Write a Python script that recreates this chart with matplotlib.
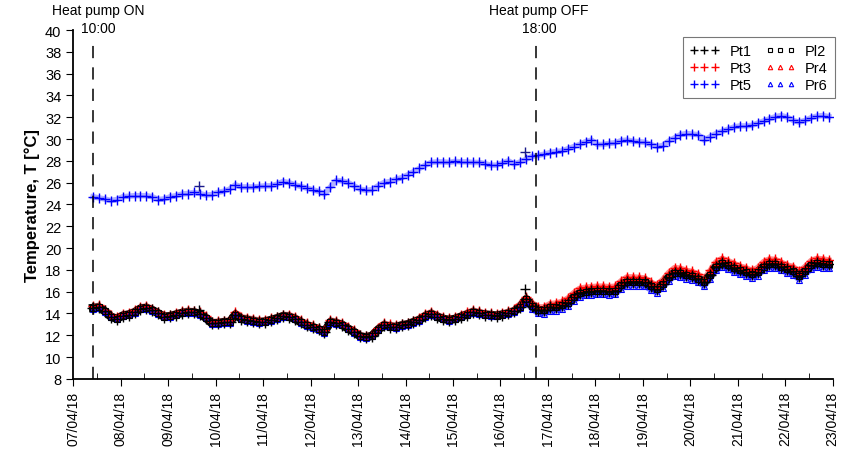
import pandas as pd
import numpy as np
import matplotlib
matplotlib.use('Agg')
import matplotlib.pyplot as plt
import matplotlib.dates as mdates

plt.rcParams['font.family'] = ['Liberation Sans', 'DejaVu Sans']

# 3-hourly readings from 07/04/18 10:00
times = pd.date_range('2018-04-07 10:00', periods=125, freq='3h')

pt1 = [14.5, 14.55, 14.2, 13.7, 13.5,
       13.8, 13.9, 14.1, 14.45, 14.5, 14.3, 14.0, 13.7,
       13.75, 13.9, 14.05, 14.1, 14.1, 13.95, 13.6, 13.1,
       13.1, 13.2, 13.2, 13.9, 13.5, 13.4, 13.3, 13.2,
       13.25, 13.4, 13.55, 13.75, 13.7, 13.5, 13.2, 12.9,
       12.75, 12.55, 12.3, 13.2, 13.1, 12.95, 12.6, 12.3,
       11.9, 11.8, 11.95, 12.5, 12.9, 12.8, 12.75, 12.9,
       13.0, 13.2, 13.4, 13.75, 13.95, 13.7, 13.5, 13.4,
       13.5, 13.7, 13.9, 14.1, 14.0, 13.9, 13.85, 13.8,
       13.9, 14.0, 14.2, 14.6, 15.3, 14.7, 14.3, 14.3,
       14.55, 14.6, 14.75, 15.0, 15.5, 15.85, 16.0, 16.05,
       16.1, 16.1, 16.05, 16.1, 16.6, 16.9, 16.9, 16.9,
       16.85, 16.5, 16.25, 16.7, 17.3, 17.75, 17.7, 17.55,
       17.45, 17.2, 16.85, 17.5, 18.3, 18.6, 18.4, 18.15,
       17.95, 17.8, 17.6, 17.8, 18.3, 18.55, 18.5, 18.3,
       18.05, 17.9, 17.45, 17.9, 18.4, 18.6, 18.55, 18.5]

pt3 = [14.65, 14.75, 14.35, 13.85, 13.65,
       13.95, 14.05, 14.3, 14.6, 14.7, 14.45, 14.15, 13.85,
       13.9, 14.05, 14.2, 14.3, 14.25, 14.1, 13.75, 13.25,
       13.3, 13.35, 13.4, 14.1, 13.7, 13.6, 13.5, 13.4,
       13.4, 13.55, 13.7, 13.9, 13.9, 13.7, 13.4, 13.1,
       12.9, 12.7, 12.45, 13.4, 13.3, 13.1, 12.75, 12.45,
       12.05, 11.95, 12.1, 12.7, 13.1, 13.0, 12.9, 13.05,
       13.15, 13.35, 13.6, 13.95, 14.15, 13.9, 13.65, 13.55,
       13.65, 13.85, 14.1, 14.3, 14.2, 14.05, 14.0, 13.95,
       14.05, 14.2, 14.4, 14.9, 15.5, 15.0, 14.6, 14.6,
       14.9, 14.95, 15.1, 15.4, 15.9, 16.3, 16.4, 16.45,
       16.5, 16.5, 16.45, 16.5, 17.0, 17.35, 17.35, 17.3,
       17.25, 16.9, 16.6, 17.1, 17.75, 18.2, 18.15, 17.95,
       17.85, 17.6, 17.2, 17.95, 18.75, 19.05, 18.85, 18.6,
       18.35, 18.2, 17.95, 18.2, 18.75, 19.0, 18.95, 18.7,
       18.45, 18.3, 17.85, 18.3, 18.85, 19.05, 19.0, 18.9]

pt5 = [24.7, 24.6, 24.5, 24.35, 24.45,
       24.7, 24.75, 24.8, 24.8, 24.8, 24.7, 24.45, 24.5,
       24.7, 24.8, 24.95, 25.0, 25.1, 25.0, 24.85, 24.9,
       25.1, 25.2, 25.4, 25.8, 25.6, 25.6, 25.6, 25.65,
       25.7, 25.7, 25.85, 26.1, 26.0, 25.8, 25.65, 25.5,
       25.35, 25.2, 24.95, 25.6, 26.2, 26.15, 26.0, 25.7,
       25.4, 25.3, 25.35, 25.7, 26.0, 26.1, 26.3, 26.45,
       26.7, 27.0, 27.3, 27.6, 27.85, 27.9, 27.9, 27.85,
       27.95, 27.9, 27.9, 27.85, 27.85, 27.75, 27.6, 27.6,
       27.8, 28.0, 27.7, 27.9, 28.15, 28.4, 28.5, 28.6,
       28.75, 28.85, 28.9, 29.1, 29.3, 29.5, 29.75, 29.9,
       29.5, 29.5, 29.6, 29.65, 29.85, 29.9, 29.8, 29.75,
       29.7, 29.5, 29.3, 29.4, 29.8, 30.1, 30.4, 30.5,
       30.45, 30.4, 29.9, 30.2, 30.5, 30.7, 30.9, 31.1,
       31.2, 31.2, 31.25, 31.45, 31.65, 31.85, 32.05, 32.15,
       32.0, 31.7, 31.55, 31.7, 31.95, 32.1, 32.15, 32.05]

pr6 = [14.45, 14.5, 14.15, 13.65, 13.45,
       13.75, 13.85, 14.05, 14.4, 14.45, 14.25, 13.95, 13.65,
       13.7, 13.85, 14.0, 14.05, 14.05, 13.9, 13.55, 13.05,
       13.05, 13.15, 13.15, 13.85, 13.45, 13.35, 13.25, 13.15,
       13.2, 13.35, 13.5, 13.7, 13.65, 13.45, 13.15, 12.85,
       12.7, 12.5, 12.25, 13.15, 13.05, 12.9, 12.55, 12.25,
       11.85, 11.75, 11.9, 12.45, 12.85, 12.75, 12.7, 12.85,
       12.95, 13.15, 13.35, 13.7, 13.9, 13.65, 13.45, 13.35,
       13.45, 13.65, 13.85, 14.05, 13.95, 13.85, 13.8, 13.75,
       13.85, 13.95, 14.15, 14.5, 15.0, 14.4, 14.0, 13.95,
       14.2, 14.25, 14.4, 14.65, 15.15, 15.5, 15.65, 15.7,
       15.75, 15.75, 15.7, 15.75, 16.25, 16.55, 16.55, 16.55,
       16.5, 16.15, 15.9, 16.35, 16.95, 17.4, 17.35, 17.2,
       17.1, 16.85, 16.5, 17.15, 17.95, 18.25, 18.05, 17.8,
       17.6, 17.45, 17.25, 17.45, 17.95, 18.2, 18.15, 17.95,
       17.7, 17.55, 17.1, 17.55, 18.05, 18.25, 18.2, 18.15]

# Pl2 and Pr4 sit on top of Pt1 and Pt3 in the picture
pl2 = list(pt1)
pr4 = list(pt3)

# single stray readings
spike_times = pd.to_datetime(['2018-04-09 15:30', '2018-04-16 12:30'])
pt5_spikes = [25.7, 28.8]
pt1_spikes = [14.3, 16.2]

hp_on = pd.Timestamp('2018-04-07 10:00')
hp_off = pd.Timestamp('2018-04-16 18:00')

fig = plt.figure(figsize=(8.42, 4.56), dpi=100)
ax = fig.add_axes([0.087, 0.167, 0.902, 0.765])

# dense bands under the markers
ax.plot(times, pt3, color='red', lw=4, alpha=0.45, zorder=1)
ax.plot(times, pr6, color='blue', lw=4, alpha=0.5, zorder=1)
ax.plot(times, pt5, color='blue', lw=4, alpha=0.3, zorder=1)
ax.plot(times, pt1, color='black', lw=6, zorder=2)

h3, = ax.plot(times, pt3, '+', color='red', ms=7, mew=1, label='Pt3', zorder=2)
h4, = ax.plot(times, pr4, '^', color='red', mfc='none', ms=4, mew=0.8, label='Pr4', zorder=2)
h6, = ax.plot(times, pr6, '^', color='blue', mfc='none', ms=4, mew=0.8, label='Pr6', zorder=2)
h5, = ax.plot(times, pt5, '+', color='blue', ms=7, mew=1, label='Pt5', zorder=3)
h1, = ax.plot(times, pt1, '+', color='black', ms=8, mew=1, label='Pt1', zorder=3)
h2, = ax.plot(times, pl2, 's', color='black', mfc='none', ms=4, mew=0.8, label='Pl2', zorder=3)

ax.plot(spike_times, pt5_spikes, '+', color='#1a1a8a', ms=7, mew=1, zorder=3)
ax.plot(spike_times, pt1_spikes, '+', color='black', ms=7, mew=1, zorder=3)

for t in [hp_on, hp_off]:
    ax.axvline(t, ymax=0.965, color='black', lw=1.1, dashes=(8, 6), zorder=4)

# event labels: title line above, time below
for t, name, hour, dx in [(hp_on, 'Heat pump ON', '10:00', 4),
                          (hp_off, 'Heat pump OFF', '18:00', 2)]:
    ax.annotate(hour, (t, 39.5), xytext=(dx, 0), textcoords='offset points',
                ha='center', va='bottom', fontsize=10)
    ax.annotate(name, (t, 39.5), xytext=(dx, 13), textcoords='offset points',
                ha='center', va='bottom', fontsize=10)

ax.set_xlim(pd.Timestamp('2018-04-07'), pd.Timestamp('2018-04-23'))
ax.set_ylim(8, 40)
ax.set_yticks(np.arange(8, 41, 2))
ax.xaxis.set_major_locator(mdates.DayLocator())
ax.xaxis.set_major_formatter(mdates.DateFormatter('%d/%m/%y'))
ax.xaxis.set_minor_locator(mdates.HourLocator(byhour=[12]))
ax.tick_params(axis='x', which='major', direction='out', length=5, labelrotation=90, labelsize=10)
ax.tick_params(axis='x', which='minor', direction='in', length=4)
ax.tick_params(axis='y', direction='out', length=5, labelsize=10.5)
ax.spines['top'].set_visible(False)
ax.spines['right'].set_visible(False)
ax.spines['left'].set_linewidth(1.3)
ax.spines['bottom'].set_linewidth(1.3)
ax.set_ylabel('Temperature, T [°C]', fontsize=12, fontweight='bold')

leg = ax.legend([h1, h3, h5, h2, h4, h6], ['Pt1', 'Pt3', 'Pt5', 'Pl2', 'Pr4', 'Pr6'],
                ncol=2, numpoints=3, loc='upper right', bbox_to_anchor=(1.012, 1.0),
                fancybox=False, edgecolor='#555555', fontsize=10.5, markerscale=0.8,
                handlelength=2.0, handletextpad=0.7, columnspacing=1.0,
                labelspacing=0.2, borderpad=0.45)
leg.get_frame().set_linewidth(0.8)

fig.savefig('out.png', dpi=100)
